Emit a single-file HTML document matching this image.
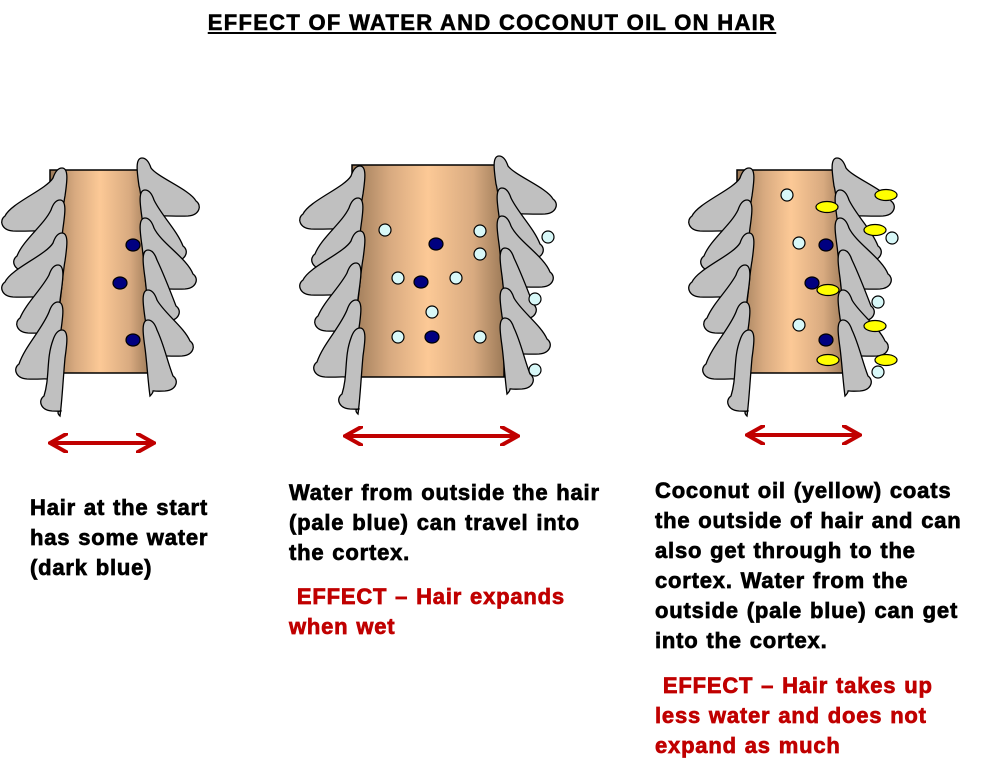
<!DOCTYPE html>
<html><head><meta charset="utf-8"><style>
body{margin:0;background:#fff;}
#w{position:relative;width:1006px;height:767px;overflow:hidden;font-family:"Liberation Sans",Arial,sans-serif;}
.t{position:absolute;white-space:nowrap;font-weight:bold;font-size:22px;line-height:30px;letter-spacing:0.8px;word-spacing:1px;color:#000;-webkit-text-stroke:0.7px #000;}
.r{color:#c00000;-webkit-text-stroke:0.7px #c00000;}
h1{position:absolute;left:0;width:984px;top:10px;margin:0;text-align:center;font-size:22px;font-weight:bold;text-decoration:underline;letter-spacing:1.3px;-webkit-text-stroke:0.6px #000;}
</style></head><body><div id="w">
<h1>EFFECT OF WATER AND COCONUT OIL ON HAIR</h1>
<svg id="s" width="1006" height="767" style="position:absolute;left:0;top:0">
<defs>
<linearGradient id="g" x1="0" x2="1" y1="0" y2="0">
<stop offset="0" stop-color="#9c7a58"/><stop offset="0.25" stop-color="#d8aa80"/><stop offset="0.5" stop-color="#fcc996"/><stop offset="0.8" stop-color="#d8aa80"/><stop offset="1" stop-color="#9c7a58"/>
</linearGradient>
<marker id="a" viewBox="0 0 10 10" refX="8" refY="5" markerWidth="5" markerHeight="5" orient="auto-start-reverse"><path d="M0,0 L9,5 L0,10" fill="none" stroke="#c00000" stroke-width="2"/></marker>
</defs>
</svg>
<div class="t" style="left:30px;top:493px">Hair at the start<br>has some water<br>(dark blue)</div>
<div class="t" style="left:289px;top:478px">Water from outside the hair<br>(pale blue) can travel into<br>the cortex.</div>
<div class="t r" style="left:289px;top:582px">&nbsp;EFFECT – Hair expands<br>when wet</div>
<div class="t" style="left:655px;top:476px">Coconut oil (yellow) coats<br>the outside of hair and can<br>also get through to the<br>cortex. Water from the<br>outside (pale blue) can get<br>into the cortex.</div>
<div class="t r" style="left:655px;top:671px">&nbsp;EFFECT – Hair takes up<br>less water and does not<br>expand as much</div>
</div>
<script>
var s=document.getElementById('s'),h='';
function P(a,b){return a.toFixed(1)+','+b.toFixed(1)+' ';}
function sc(x0,y0,tx,ty,d){var dy=ty-y0;
h+='<path d="M'+P(x0,y0)+
'C'+P(x0+d*7,y0)+P(x0+d*5,y0+14)+P(x0+d*3,y0+28)+
'C'+P(x0+d*1,y0+dy*0.7)+P(x0,ty)+P(x0-d*2,ty+14)+
'C'+P(x0-d*10,ty+6)+P(tx+d*30,ty+10)+P(tx+d*10,ty+9)+
'C'+P(tx-d*2,ty+8)+P(tx-d*4,ty-2)+P(tx+d*2,ty-6)+
'C'+P(tx+d*8,ty-dy*0.35)+P(x0-d*16,y0+dy*0.4)+P(x0-d*9,y0+10)+
'C'+P(x0-d*7,y0+4)+P(x0-d*4,y0)+P(x0,y0)+'Z" fill="#c0c0c0" stroke="#000" stroke-width="1.3"/>';}
var LS=[[62,168,3,222],[60,200,15,262],[62,233,3,288],[58,265,18,324],[58,302,17,370],[62,330,42,402]];
var RS=[[142,158,198,207],[145,190,185,252],[145,218,195,280],[148,250,178,312],[148,290,192,347],[148,320,175,382]];
function hair(bx,bw,by,bh,lo,ro,yo){
h+='<rect x="'+bx+'" y="'+by+'" width="'+bw+'" height="'+bh+'" fill="url(#g)" stroke="#000" stroke-width="1.5"/>';
LS.forEach(function(p){sc(p[0]+lo,p[1]+yo,p[2]+lo,p[3]+yo,1);});
RS.forEach(function(p){sc(p[0]+ro,p[1]+yo,p[2]+ro,p[3]+yo,-1);});}
hair(50,100,170,203,0,0,0);
hair(352,152,165,212,298,357,-2);
hair(737,108,170,203,687,695,0);
function c(x,y,f,rx){h+='<ellipse cx="'+x+'" cy="'+y+'" rx="'+rx+'" ry="6" fill="'+f+'" stroke="#000" stroke-width="1.2"/>';}
function e(x,y){h+='<ellipse cx="'+x+'" cy="'+y+'" rx="11" ry="5.5" fill="#ffff00" stroke="#000" stroke-width="1.2"/>';}
var D='#000080',PB='#d8f8f8';
[[133,245],[120,283],[133,340],[436,244],[421,282],[432,337],[826,245],[812,283],[826,340]].forEach(function(p){c(p[0],p[1],D,7);});
[[385,230],[480,231],[480,254],[398,278],[456,278],[432,312],[398,337],[480,337],[548,237],[535,299],[535,370],[787,195],[799,243],[799,325],[892,238],[878,302],[878,372]].forEach(function(p){c(p[0],p[1],PB,6);});
[[827,207],[886,195],[875,230],[828,290],[875,326],[828,360],[886,360]].forEach(function(p){e(p[0],p[1]);});
function ar(x1,x2,y){h+='<line x1="'+x1+'" y1="'+y+'" x2="'+x2+'" y2="'+y+'" stroke="#c00000" stroke-width="4" marker-start="url(#a)" marker-end="url(#a)"/>';}
ar(52,152,443);ar(347,516,436);ar(749,858,435);
s.insertAdjacentHTML('beforeend',h);
</script>
</body></html>
